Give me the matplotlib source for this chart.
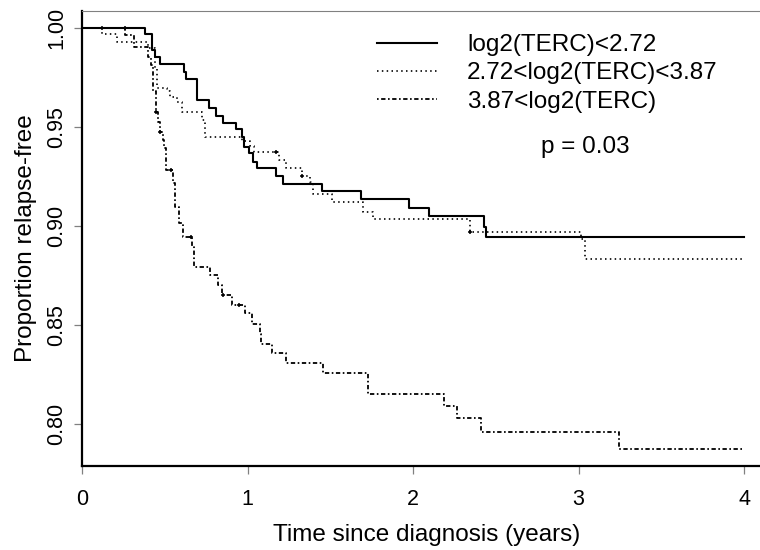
import matplotlib
matplotlib.use('Agg')
import matplotlib.pyplot as plt

plt.rcParams['font.family'] = ['Liberation Sans', 'DejaVu Sans']

# Kaplan-Meier steps (time in years, proportion relapse-free)
low_t = [0, 0.38, 0.42, 0.44, 0.47, 0.616, 0.63, 0.693, 0.77, 0.81, 0.85, 0.93,
         0.965, 0.98, 1.01, 1.035, 1.06, 1.17, 1.217, 1.448, 1.684, 1.978,
         2.097, 2.43, 2.44, 4.0]
low_s = [1.0, 0.997, 0.989, 0.9855, 0.982, 0.978, 0.9744, 0.9636, 0.9594, 0.9556,
         0.9519, 0.9488, 0.945, 0.940, 0.9367, 0.9325, 0.9291, 0.9253, 0.9212,
         0.9178, 0.9136, 0.9093, 0.9052, 0.8997, 0.8943, 0.8943]

mid_t = [0, 0.12, 0.21, 0.40, 0.44, 0.455, 0.512, 0.532, 0.572, 0.602, 0.723,
         0.743, 0.965, 1.015, 1.04, 1.19, 1.233, 1.327, 1.378, 1.398, 1.508,
         1.70, 1.76, 2.344, 3.015, 3.04, 3.99]
mid_s = [1.0, 0.997, 0.993, 0.990, 0.980, 0.9695, 0.968, 0.965, 0.9628, 0.9577,
         0.9535, 0.945, 0.943, 0.9406, 0.9372, 0.9333, 0.9291, 0.925, 0.922,
         0.916, 0.912, 0.9072, 0.9033, 0.8972, 0.8935, 0.8832, 0.8832]

high_t = [0, 0.26, 0.314, 0.40, 0.415, 0.43, 0.447, 0.461, 0.471, 0.487, 0.495,
          0.507, 0.552, 0.562, 0.588, 0.612, 0.663, 0.677, 0.773, 0.824, 0.844,
          0.904, 0.985, 1.025, 1.076, 1.08, 1.146, 1.233, 1.454, 1.726, 2.187,
          2.268, 2.41, 3.245, 4.0]
high_s = [1.0, 0.9965, 0.9906, 0.9855, 0.9813, 0.968, 0.9577, 0.9527, 0.9476,
          0.9434, 0.9392, 0.9283, 0.9216, 0.9098, 0.9014, 0.8946, 0.890, 0.8795,
          0.8753, 0.870, 0.8652, 0.860, 0.8559, 0.8503, 0.8455, 0.8404, 0.836,
          0.8307, 0.8259, 0.8152, 0.8092, 0.8029, 0.7961, 0.7874, 0.7874]

# censored observations
low_cens_t = [0.12, 0.26]
low_cens_s = [1.0, 1.0]
mid_cens_t = [1.17, 1.327, 2.344]
mid_cens_s = [0.9372, 0.925, 0.8972]
high_cens_t = [0.45, 0.47, 0.54, 0.66, 0.85, 0.95]
high_cens_s = [0.9577, 0.9476, 0.9283, 0.8946, 0.8652, 0.860]

labels = ['log2(TERC)<2.72', '2.72<log2(TERC)<3.87', '3.87<log2(TERC)']

fig = plt.figure(figsize=(7.6, 5.5), dpi=100)
ax = fig.add_axes([82 / 760, (550 - 465.7) / 550, 688.5 / 760, 454.7 / 550])

ax.step(low_t, low_s, where='post', color='black', lw=1.5, label=labels[0])
ax.step(mid_t, mid_s, where='post', color='black', lw=1.2,
        dashes=(0.9, 2.0), label=labels[1])
ax.step(high_t, high_s, where='post', color='black', lw=1.3,
        dashes=(0.9, 1.4, 2.4, 1.4), label=labels[2])

for ct, cs in [(low_cens_t, low_cens_s), (mid_cens_t, mid_cens_s),
               (high_cens_t, high_cens_s)]:
    ax.plot(ct, cs, linestyle='none', marker='+', markersize=3,
            mew=1.1, color='black')

ax.set_xlim(0, 4.16)
ax.set_ylim(0.7789, 1.0086)
ax.set_xticks([0, 1, 2, 3, 4])
ax.set_yticks([0.80, 0.85, 0.90, 0.95, 1.00])
ax.set_yticklabels(['0.80', '0.85', '0.90', '0.95', '1.00'], rotation=90,
                   va='center')

ax.spines['right'].set_visible(False)
ax.spines['top'].set_color('#808080')
ax.spines['top'].set_linewidth(0.8)
for side in ['left', 'bottom']:
    ax.spines[side].set_color('black')
    ax.spines[side].set_linewidth(1.6)

ax.tick_params(axis='both', labelsize=15.5, color='#808080', width=0.9,
               length=5.5, direction='out')
ax.tick_params(axis='x', pad=11)
ax.tick_params(axis='y', pad=5)

ax.set_xlabel('Time since diagnosis (years)', fontsize=17.5, labelpad=10)
ax.set_ylabel('Proportion relapse-free', fontsize=17.5, labelpad=7)

ax.legend(loc='upper left', bbox_to_anchor=(377 / 760, 1 - 34 / 550),
          bbox_transform=fig.transFigure, frameon=False, fontsize=17.5,
          handlelength=2.47, handletextpad=1.23, labelspacing=0.26,
          borderpad=0, borderaxespad=0)

ax.text(3.04, 0.940, 'p = 0.03', fontsize=17.5, ha='center', va='center')

fig.savefig('out.png', dpi=100)
